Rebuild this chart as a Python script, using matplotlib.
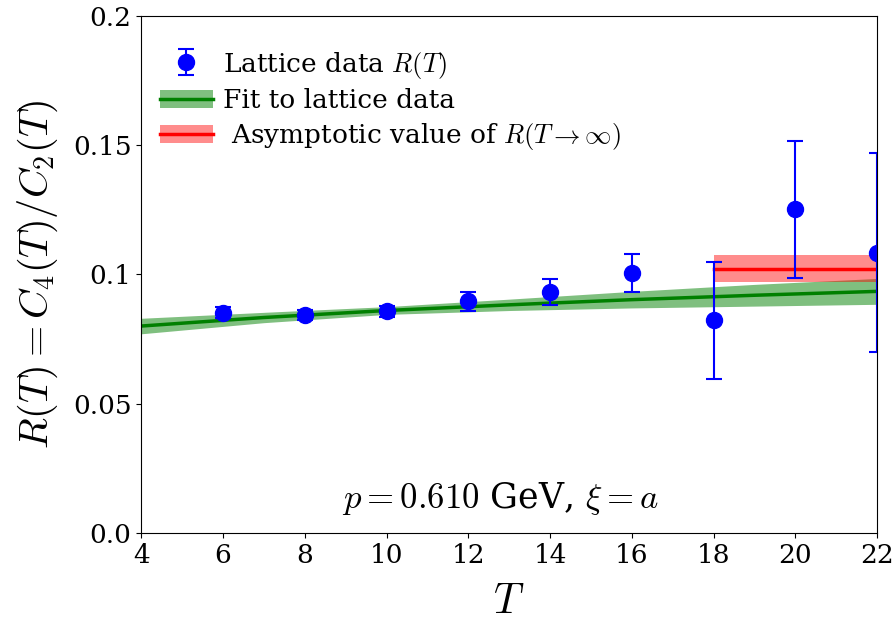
import numpy as np
import matplotlib.pyplot as plt
from matplotlib.patches import Patch

plt.rcParams['font.family'] = 'DejaVu Serif'
plt.rcParams['mathtext.fontset'] = 'cm'

T = [6, 8, 10, 12, 14, 16, 18, 20, 22]
R = [0.0852, 0.0843, 0.0857, 0.0895, 0.0930, 0.1005, 0.0822, 0.1252, 0.1083]
R_err = [0.0020, 0.0018, 0.0022, 0.0035, 0.0050, 0.0072, 0.0225, 0.0265, 0.0385]

T_fit = [4, 7, 10, 13, 16, 19, 22]
R_fit = [0.0800, 0.0833, 0.0860, 0.0882, 0.0902, 0.0919, 0.0934]
R_fit_err = [0.0030, 0.0020, 0.0015, 0.0022, 0.0032, 0.0042, 0.0050]

T_asym = [18, 22]
R_asym = 0.1022
R_asym_err = 0.0052

fig, ax = plt.subplots(figsize=(8.94, 6.27), dpi=100)

lo = np.array(R_fit) - np.array(R_fit_err)
hi = np.array(R_fit) + np.array(R_fit_err)
ax.fill_between(T_fit, lo, hi, color='green', alpha=0.5, lw=0)
l1, = ax.plot(T_fit, R_fit, color='green', lw=2.5)

ax.fill_between(T_asym, R_asym - R_asym_err, R_asym + R_asym_err, color='red', alpha=0.45, lw=0)
l2, = ax.plot(T_asym, [R_asym, R_asym], color='red', lw=2.5)

eb = ax.errorbar(T, R, yerr=R_err, fmt='o', color='blue', ms=11.5, capsize=6, elinewidth=1.5, capthick=1.5)

ax.set_xlim(4, 22)
ax.set_ylim(0, 0.2)
ax.set_xticks([4, 6, 8, 10, 12, 14, 16, 18, 20, 22])
ax.set_yticks([0, 0.05, 0.1, 0.15, 0.2])
ax.set_yticklabels(['0.0', '0.05', '0.1', '0.15', '0.2'])
ax.tick_params(labelsize=19)

ax.set_xlabel('$T$', fontsize=30, labelpad=9)
ax.set_ylabel(r'$R(T) = C_4(T)/C_2(T)$', fontsize=29, labelpad=9)

ax.text(12.8, 0.0135, r'$p = 0.610$ GeV, $\xi = a$', fontsize=25, ha='center', va='center')

p1 = Patch(color='green', alpha=0.5, lw=0)
p2 = Patch(color='red', alpha=0.45, lw=0)
ax.legend([eb, (p1, l1), (p2, l2)],
          [r'Lattice data $R(T)$', 'Fit to lattice data', r' Asymptotic value of $R(T\to\infty)$'],
          loc='upper left', bbox_to_anchor=(0.011, 0.955), fontsize=19, frameon=False,
          handlelength=2.0, borderaxespad=0, handletextpad=0.4, labelspacing=0.3)

plt.subplots_adjust(left=0.158, right=0.981, top=0.975, bottom=0.15)
plt.savefig('out.png')
